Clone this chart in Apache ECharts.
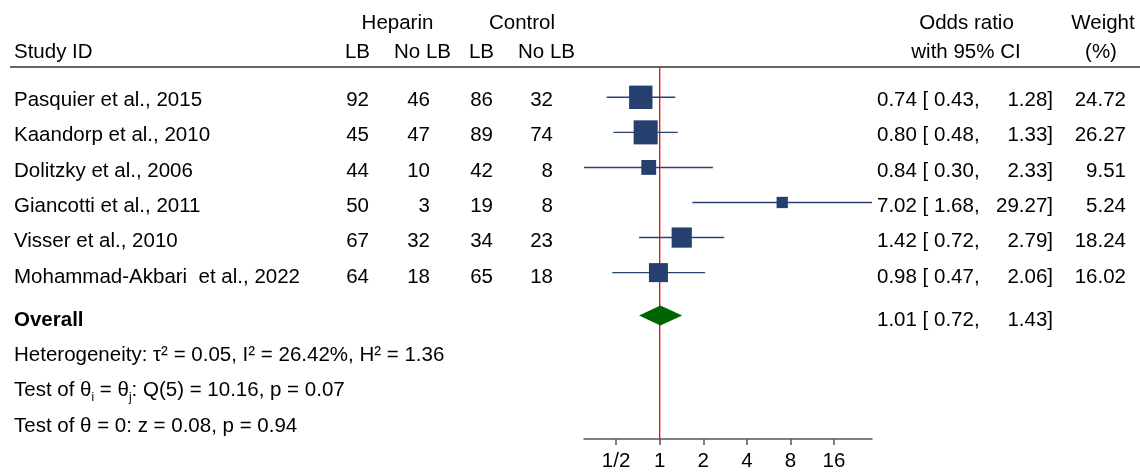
<!DOCTYPE html>
<html><head><meta charset="utf-8">
<script src="https://cdn.jsdelivr.net/npm/echarts@6/dist/echarts.min.js"></script>
<style>html,body{margin:0;padding:0;background:#fff}#c{width:1140px;height:472px}</style>
</head><body><div id="c"></div>
<script>
// ---------------- data ----------------
const studies = ['Pasquier et al., 2015', 'Kaandorp et al., 2010', 'Dolitzky et al., 2006',
  'Giancotti et al., 2011', 'Visser et al., 2010', 'Mohammad-Akbari  et al., 2022'];
const heparinLB = [92, 45, 44, 50, 67, 64];
const heparinNoLB = [46, 47, 10, 3, 32, 18];
const controlLB = [86, 89, 42, 19, 34, 65];
const controlNoLB = [32, 74, 8, 8, 23, 18];
const oddsRatio = [0.74, 0.80, 0.84, 7.02, 1.42, 0.98];
const ciLower = [0.43, 0.48, 0.30, 1.68, 0.72, 0.47];
const ciUpper = [1.28, 1.33, 2.33, 29.27, 2.79, 2.06];
const weights = [24.72, 26.27, 9.51, 5.24, 18.24, 16.02];
const overallEstimate = [1.01, 0.72, 1.43]; // OR, lower, upper
const nullValue = 1;
const tickValues = [0.5, 1, 2, 4, 8, 16];
const tickLabels = ['1/2', '1', '2', '4', '8', '16'];

// ---------------- layout ----------------
const W = 1140, H = 472;
const FONT = "'Liberation Sans', Arial, Helvetica, sans-serif";
const FS = 20.5;
const ROW0 = 97.5, STEP = 35.3;
const GRID_TOP = 67, AXIS_Y = 441.5;
const OVERALL_ROW = 6.22;
const rowY = r => ROW0 + r * STEP;
const fmt = v => v.toFixed(2);
const l2 = v => Math.log2(v);

const xMin = l2(Math.min(...ciLower));
const xMax = l2(Math.max(...ciUpper));
const yMin = (GRID_TOP - ROW0) / STEP, yMax = (AXIS_Y - ROW0) / STEP;

function T(x, y, text, align, extra) {
  return {
    type: 'text', x: x, y: y, silent: true,
    style: Object.assign({
      text: text, fill: '#000', fontSize: FS, fontFamily: FONT,
      align: align, textAlign: align, verticalAlign: 'middle', textVerticalAlign: 'middle'
    }, extra || {})
  };
}

const graphics = [];
// header
const H1 = 23.5, H2 = 52.5;
graphics.push(T(397.5, H1, 'Heparin', 'center'));
graphics.push(T(522, H1, 'Control', 'center'));
graphics.push(T(966.5, H1, 'Odds ratio', 'center'));
graphics.push(T(1103, H1, 'Weight', 'center'));
graphics.push(T(14, H2, 'Study ID', 'left'));
graphics.push(T(357.5, H2, 'LB', 'center'));
graphics.push(T(422.5, H2, 'No LB', 'center'));
graphics.push(T(481.5, H2, 'LB', 'center'));
graphics.push(T(546.5, H2, 'No LB', 'center'));
graphics.push(T(966, H2, 'with 95% CI', 'center'));
graphics.push(T(1101, H2, '(%)', 'center'));
graphics.push({
  type: 'line', silent: true,
  shape: { x1: 10, y1: GRID_TOP, x2: W, y2: GRID_TOP },
  style: { stroke: '#333', lineWidth: 1.5 }
});

const TXT_DY = 3;
studies.forEach((s, i) => {
  const y = rowY(i) + TXT_DY;
  graphics.push(T(14, y, s, 'left'));
  graphics.push(T(369, y, String(heparinLB[i]), 'right'));
  graphics.push(T(430, y, String(heparinNoLB[i]), 'right'));
  graphics.push(T(493, y, String(controlLB[i]), 'right'));
  graphics.push(T(553, y, String(controlNoLB[i]), 'right'));
  graphics.push(T(877, y, fmt(oddsRatio[i]) + ' [ ' + fmt(ciLower[i]) + ',', 'left'));
  graphics.push(T(1053, y, fmt(ciUpper[i]) + ']', 'right'));
  graphics.push(T(1126, y, fmt(weights[i]), 'right'));
});
const oy = rowY(OVERALL_ROW) + TXT_DY;
graphics.push(T(14, oy, 'Overall', 'left', { fontWeight: 'bold' }));
graphics.push(T(877, oy, fmt(overallEstimate[0]) + ' [ ' + fmt(overallEstimate[1]) + ',', 'left'));
graphics.push(T(1053, oy, fmt(overallEstimate[2]) + ']', 'right'));

graphics.push(T(14, rowY(OVERALL_ROW + 1) + TXT_DY, 'Heterogeneity: τ² = 0.05, I² = 26.42%, H² = 1.36', 'left'));
graphics.push(T(14, rowY(OVERALL_ROW + 2) + TXT_DY, '{a|Test of θ}{s|i}{a| = θ}{s|j}{a|: Q(5) = 10.16, p = 0.07}', 'left', {
  rich: {
    a: { fontSize: FS, fontFamily: FONT, fill: '#000', lineHeight: 26 },
    s: { fontSize: 12, fontFamily: FONT, fill: '#000', lineHeight: 13, verticalAlign: 'bottom' }
  }
}));
graphics.push(T(14, rowY(OVERALL_ROW + 3) + TXT_DY, 'Test of θ = 0: z = 0.08, p = 0.94', 'left'));

// ---------------- series data ----------------
const ciData = studies.map((s, i) => [l2(ciLower[i]), l2(ciUpper[i]), i]);
const sqData = studies.map((s, i) => ({ value: [l2(oddsRatio[i]), i], symbolSize: 4.5 * Math.sqrt(weights[i]) + 1 }));
const diamondData = [[l2(overallEstimate[0]), l2(overallEstimate[1]), l2(overallEstimate[2]), OVERALL_ROW]];
const nullLineData = [[l2(nullValue), yMin], [l2(nullValue), yMax]];

const chart = echarts.init(document.getElementById('c'), null, { renderer: 'canvas' });
chart.setOption({
  animation: false,
  backgroundColor: '#fff',
  grid: { left: 584, right: W - 872, top: GRID_TOP, bottom: H - AXIS_Y, containLabel: false },
  xAxis: {
    type: 'value', min: xMin, max: xMax,
    splitLine: { show: false },
    axisLine: { show: true, onZero: false, lineStyle: { color: '#555', width: 1.5 } },
    axisTick: { show: true, customValues: tickValues.map(l2), length: 6, lineStyle: { color: '#555', width: 1.5 } },
    axisLabel: {
      customValues: tickValues.map(l2), margin: 12,
      color: '#000', fontSize: FS, fontFamily: FONT,
      formatter: v => {
        const k = tickValues.findIndex(t => Math.abs(l2(t) - v) < 1e-6);
        return k >= 0 ? tickLabels[k] : '';
      }
    }
  },
  yAxis: {
    type: 'value', inverse: true, min: yMin, max: yMax,
    show: false, splitLine: { show: false }
  },
  series: [
    {
      type: 'line', name: 'null', data: nullLineData, z: 1, silent: true,
      symbol: 'none', lineStyle: { color: '#ff0000', width: 1.3 }, itemStyle: { color: '#ff0000' }
    },
    {
      type: 'custom', name: 'ci', data: ciData, z: 2, silent: true,
      renderItem: (params, api) => {
        const a = api.coord([api.value(0), api.value(2)]);
        const b = api.coord([api.value(1), api.value(2)]);
        return { type: 'line', shape: { x1: a[0], y1: a[1], x2: b[0], y2: b[1] },
          style: { stroke: '#2a4272', lineWidth: 1.4 } };
      }
    },
    {
      type: 'scatter', name: 'or', data: sqData, symbol: 'rect', z: 3, silent: true,
      itemStyle: { color: '#253f6f', opacity: 1 }
    },
    {
      type: 'custom', name: 'overall', data: diamondData, z: 4, silent: true,
      renderItem: (params, api) => {
        const c = api.coord([api.value(0), api.value(3)]);
        const lo = api.coord([api.value(1), api.value(3)]);
        const hi = api.coord([api.value(2), api.value(3)]);
        const h = 10;
        return { type: 'polygon', shape: { points: [[lo[0], c[1]], [c[0], c[1] - h], [hi[0], c[1]], [c[0], c[1] + h]] },
          style: { fill: '#006400' } };
      }
    }
  ],
  graphic: graphics
});
</script>
</body></html>
